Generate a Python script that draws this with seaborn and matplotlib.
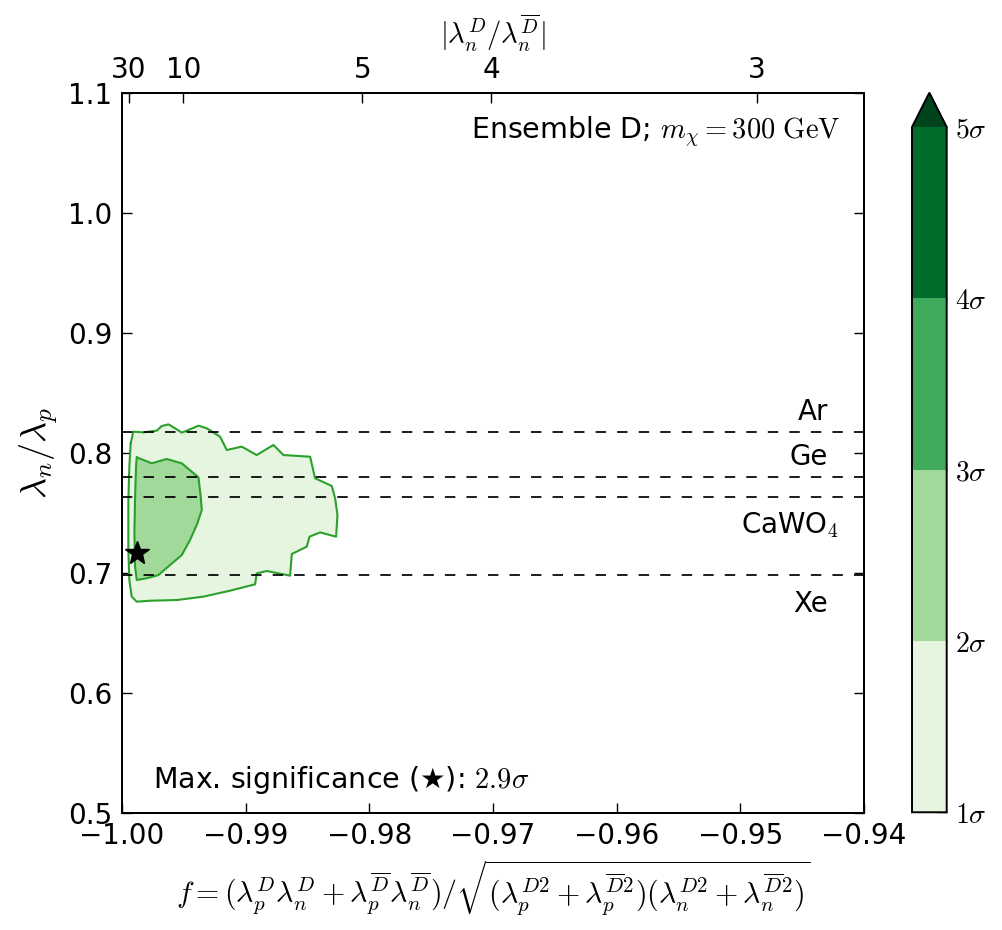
import numpy as np
import matplotlib
matplotlib.use("Agg")
import matplotlib.pyplot as plt
from matplotlib.colors import ListedColormap, BoundaryNorm
from matplotlib.cm import ScalarMappable
import seaborn as sns

# 1 sigma contour (outer)
outer_f = [-0.99930, -0.99909, -0.99828, -0.99720, -0.99679, -0.99625, -0.99571, -0.99517,
           -0.99463, -0.99382, -0.99315, -0.99207, -0.99153, -0.99032, -0.98911, -0.98776,
           -0.98695, -0.98479, -0.98439, -0.98304, -0.98277, -0.98258, -0.98269, -0.98398,
           -0.98484, -0.98506, -0.98627, -0.98641, -0.98830, -0.98911, -0.98924, -0.99126,
           -0.99342, -0.99555, -0.99773, -0.99881, -0.99922, -0.99941, -0.99949, -0.99949,
           -0.99941]
outer_r = [0.8081, 0.8178, 0.8172, 0.8186, 0.8225, 0.8239, 0.8206, 0.8170,
           0.8192, 0.8228, 0.8206, 0.8136, 0.8025, 0.8053, 0.7983, 0.8067,
           0.7983, 0.7969, 0.7789, 0.7725, 0.7622, 0.7483, 0.7302, 0.7338,
           0.7302, 0.7219, 0.7158, 0.6977, 0.7016, 0.6996, 0.6905, 0.6852,
           0.6802, 0.6774, 0.6768, 0.6760, 0.6802, 0.6941, 0.7191, 0.7608,
           0.7886]

# 2 sigma contour (inner)
inner_f = [-0.99881, -0.99760, -0.99639, -0.99517, -0.99436, -0.99382, -0.99364, -0.99355,
           -0.99391, -0.99450, -0.99517, -0.99612, -0.99706, -0.99800, -0.99881, -0.99895,
           -0.99900, -0.99895, -0.99887]
inner_r = [0.7964, 0.7914, 0.7950, 0.7914, 0.7844, 0.7797, 0.7636, 0.7525,
           0.7413, 0.7274, 0.7149, 0.7066, 0.6982, 0.6955, 0.6941, 0.7052,
           0.7330, 0.7608, 0.7886]

# best fit point
best_f = -0.99876
best_r = 0.7163
max_sig = 2.9

# targets: lambda_n / lambda_p
targets = ["Ar", "Ge", "CaWO$_4$", "Xe"]
target_ratio = [0.8178, 0.7803, 0.7630, 0.6983]
label_x = [-0.94286, -0.94290, -0.94205, -0.94290]
label_y = [0.8275, 0.7900, 0.7330, 0.6676]

# top axis |lambda_n^D / lambda_n^Dbar|
top_ratio = [30, 10, 5, 4, 3]

x_ticks = [-1.00, -0.99, -0.98, -0.97, -0.96, -0.95, -0.94]
y_ticks = [0.5, 0.6, 0.7, 0.8, 0.9, 1.0, 1.1]

sig_levels = [1, 2, 3, 4, 5]
sig_colors = ["#e5f5e0", "#a1d99b", "#41ab5d", "#006d2c"]
over_color = "#00441b"
line_color = "#2ca02c"

sns.set_style("ticks")
plt.rcParams["font.family"] = ["DejaVu Sans"]
plt.rcParams["mathtext.fontset"] = "cm"
plt.rcParams["lines.scale_dashes"] = False
for k in ["text.color", "axes.labelcolor", "xtick.color", "ytick.color", "axes.edgecolor"]:
    plt.rcParams[k] = "black"

fig = plt.figure(figsize=(10.02, 9.3), dpi=100)
ax = fig.add_axes([0.1218, 0.1261, 0.7405, 0.7736])

# filled regions
ax.fill(outer_f, outer_r, color=sig_colors[0], lw=0, zorder=1)
ax.fill(inner_f, inner_r, color=sig_colors[1], lw=0, zorder=2)

# contour outlines
sns.lineplot(x=outer_f + outer_f[:1], y=outer_r + outer_r[:1], sort=False, estimator=None,
             color=line_color, lw=1.5, ax=ax, zorder=3)
sns.lineplot(x=inner_f + inner_f[:1], y=inner_r + inner_r[:1], sort=False, estimator=None,
             color=line_color, lw=1.5, ax=ax, zorder=3)

# target lines
for name, r, lx, ly in zip(targets, target_ratio, label_x, label_y):
    ax.axhline(r, color="black", lw=1.25, ls=(0, (7.5, 8.0)), zorder=4)
    ax.text(lx, ly, name, ha="right", va="baseline", fontsize=20)

ax.plot(best_f, best_r, marker="*", color="black", markersize=18, ls="none", zorder=5)

ax.text(-0.94191, 1.0625, r"Ensemble D; $m_\chi = 300\ \mathrm{GeV}$",
        ha="right", va="baseline", fontsize=20.5)
ax.text(-0.99752, 0.5204, "Max. significance (★): $%.1f\\sigma$" % max_sig,
        ha="left", va="baseline", fontsize=20.5)

ax.set_xlim(-1.0, -0.94)
ax.set_ylim(0.5, 1.1)
ax.set_xticks(x_ticks)
ax.set_yticks(y_ticks)
ax.set_xticklabels([("%.2f" % v).replace("-", "\u2212") for v in x_ticks])
ax.set_yticklabels(["%.1f" % v for v in y_ticks])
ax.tick_params(axis="both", direction="in", length=7, width=1, labelsize=20,
               right=True, top=False, pad=7)
ax.set_xlabel(r"$f = (\lambda_p^D\lambda_n^D + \lambda_p^{\overline{D}}\lambda_n^{\overline{D}})"
              r"/\sqrt{(\lambda_p^{D2} + \lambda_p^{\overline{D}2})(\lambda_n^{D2} + \lambda_n^{\overline{D}2})}$",
              fontsize=21.5, labelpad=6)
ax.set_ylabel(r"$\lambda_n/\lambda_p$", fontsize=26, labelpad=6)
for s in ax.spines.values():
    s.set_linewidth(1.4)
    s.set_visible(True)

# top axis
ax2 = ax.twiny()
ax2.set_xlim(ax.get_xlim())
top_pos = [-r / np.sqrt(1 + r ** 2) for r in top_ratio]
ax2.set_xticks(top_pos)
ax2.set_xticklabels([str(r) for r in top_ratio])
ax2.tick_params(axis="x", direction="in", length=7, width=1, labelsize=20, pad=7)
ax2.set_xlabel(r"$|\lambda_n^D/\lambda_n^{\overline{D}}|$", fontsize=20.5, labelpad=8)
for s in ax2.spines.values():
    s.set_linewidth(1.4)

# colorbar (axes includes the extension triangle)
cax = fig.add_axes([0.9102, 0.1266, 0.0346, 0.7737])
cmap = ListedColormap(sig_colors)
cmap.set_over(over_color)
norm = BoundaryNorm(sig_levels, cmap.N)
sm = ScalarMappable(norm=norm, cmap=cmap)
cb = fig.colorbar(sm, cax=cax, extend="max", ticks=sig_levels)
cb.ax.set_yticklabels([r"$%d\sigma$" % v for v in sig_levels])
cb.ax.tick_params(direction="in", length=7, width=1, labelsize=20, pad=6)
cb.outline.set_linewidth(1.4)

fig.savefig("out.png", dpi=100)
